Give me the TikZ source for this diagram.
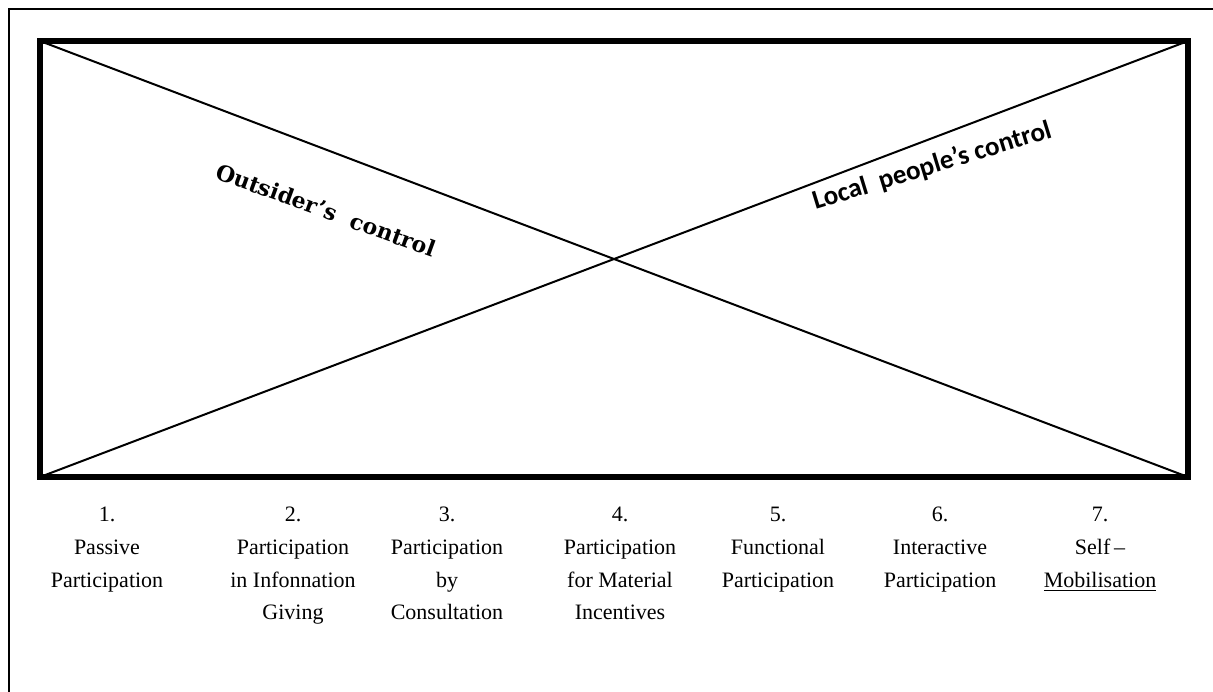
\documentclass[tikz,border=0pt]{standalone}
\usepackage{fontspec}
\setmainfont{Liberation Serif}
\newfontfamily\calibfont{Carlito}
\newfontfamily\outfont{DejaVu Serif}
\begin{document}
\begin{tikzpicture}[x=0.5pt,y=-0.5pt,
  frame/.style={line width=0.9pt},
  bigbox/.style={line width=2.6pt,line join=miter},
  diag/.style={line width=1pt},
  stage/.style={anchor=north,align=center,inner sep=0pt,
    font=\fontsize{11}{16.3}\selectfont},
  ctrl/.style={inner sep=0pt}]
\useasboundingbox (0,0) rectangle (1213,691);
\begin{scope}
  \clip (0,0) rectangle (1213,691);
  \draw[frame] (9,9) rectangle (1240,720);
\end{scope}
\coordinate (tl) at (40,41);
\coordinate (tr) at (1188,41);
\coordinate (br) at (1188,477);
\coordinate (bl) at (40,477);
\draw[bigbox] (tl) rectangle (br);
\draw[diag] (tl) -- (br);
\draw[diag] (bl) -- (tr);
\node[ctrl,rotate=-20,font=\outfont\bfseries\fontsize{11}{14}\selectfont] (outs) at (326,210) {Outsider’s\ \ control};
\node[ctrl,rotate=17,font=\calibfont\bfseries\fontsize{13.5}{16}\selectfont] (loc) at (932,166) {Local\ \ people’s control};
\node[stage] (s1) at (107,507) {1.\\Passive\\Participation};
\node[stage] (s2) at (293,507) {2.\\Participation\\in\ Infonnation\\Giving};
\node[stage] (s3) at (447,507) {3.\\Participation\\by\\Consultation};
\node[stage] (s4) at (620,507) {4.\\Participation\\for Material\\Incentives};
\node[stage] (s5) at (778,507) {5.\\Functional\\Participation};
\node[stage] (s6) at (940,507) {6.\\Interactive\\Participation};
\node[stage] (s7) at (1100,507) {7.\\Self\,--\\\underline{Mobilisation}};
\end{tikzpicture}
\end{document}
